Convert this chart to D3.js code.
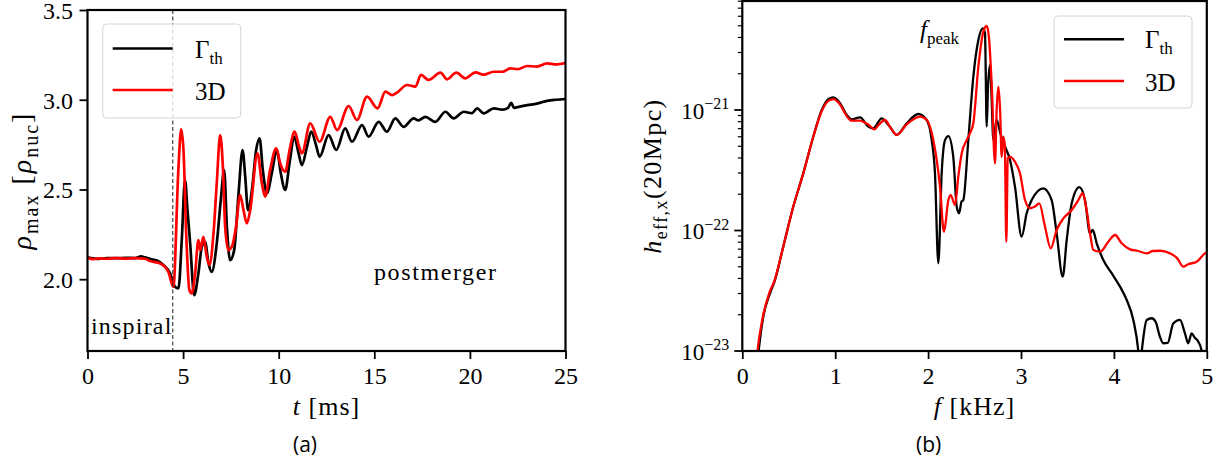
<!DOCTYPE html>
<html>
<head>
<meta charset="utf-8">
<script src="https://cdn.jsdelivr.net/npm/d3@7"></script>
<style>
  html, body { margin: 0; padding: 0; background: #fff; }
  svg { display: block; }
  text { fill: #000; }
</style>
</head>
<body>
<svg id="chart" width="1216" height="473"></svg>
<script>
// ---------- panel (a): maximum density vs time ----------
const tTicks = [0, 5, 10, 15, 20, 25];
const rhoTicks = [2.0, 2.5, 3.0, 3.5];
const mergerTime = 4.46;

const tGth = [0, 0.3, 0.6, 1.0, 1.5, 2.0, 2.5, 2.8, 3.0, 3.3, 3.6, 3.97, 4.32, 4.58, 4.76, 4.93, 5.10, 5.23, 5.37, 5.58,
  5.80, 5.98, 6.15, 6.33, 6.50, 6.76, 6.97, 7.15, 7.29, 7.46, 7.67, 7.90, 8.11, 8.25, 8.39, 8.60, 8.82, 9.0, 9.17, 9.38,
  9.64, 9.90, 10.11, 10.34, 10.57, 10.81, 11.04, 11.21, 11.48, 11.70, 11.95, 12.14, 12.61, 13.01, 13.48, 13.83, 14.36,
  14.70, 15.23, 15.66, 16.10, 16.53, 17.06, 17.3, 17.67, 18.19, 18.72, 19.15, 19.68, 20.1, 20.38, 20.72, 21.25, 21.7,
  22.0, 22.16, 22.3, 22.6, 23.0, 23.5, 24.04, 24.5, 25.0];
const rhoGth = [2.122, 2.116, 2.113, 2.118, 2.117, 2.119, 2.118, 2.128, 2.122, 2.112, 2.105, 2.079, 2.033, 1.958, 1.949,
  2.218, 2.552, 2.385, 2.199, 1.911, 2.033, 2.181, 2.208, 2.088, 2.041, 2.199, 2.44, 2.608, 2.292, 2.106, 2.162, 2.478,
  2.72, 2.571, 2.385, 2.497, 2.72, 2.785, 2.608, 2.478, 2.59, 2.72, 2.59, 2.497, 2.65, 2.794, 2.701, 2.636, 2.738, 2.822,
  2.748, 2.682, 2.803, 2.72, 2.84, 2.766, 2.859, 2.794, 2.877, 2.822, 2.896, 2.849, 2.896, 2.885, 2.905, 2.877, 2.933,
  2.896, 2.933, 2.925, 2.952, 2.924, 2.952, 2.945, 2.955, 2.983, 2.955, 2.962, 2.970, 2.978, 2.994, 3.0, 3.004];

const t3D = [0, 0.3, 0.6, 1.0, 1.5, 2.0, 2.5, 3.0, 3.27, 3.80, 4.23, 4.49, 4.76, 4.90, 5.02, 5.16, 5.33, 5.45, 5.63, 5.80,
  5.89, 6.06, 6.24, 6.38, 6.59, 6.76, 6.94, 7.08, 7.20, 7.37, 7.55, 7.77, 7.98, 8.16, 8.33, 8.51, 8.89, 9.12, 9.29, 9.55,
  9.87, 10.08, 10.34, 10.57, 10.83, 11.07, 11.21, 11.65, 12.14, 12.70, 13.05, 13.66, 14.09, 14.62, 15.17, 15.58, 15.93,
  16.19, 16.71, 17.15, 17.44, 17.84, 18.46, 18.81, 19.29, 19.76, 20.29, 20.7, 21.25, 21.7, 22.12, 22.5, 23.0, 23.5,
  24.04, 24.5, 25.0];
const rho3D = [2.120, 2.112, 2.116, 2.114, 2.118, 2.115, 2.117, 2.114, 2.101, 2.088, 2.041, 1.958, 2.627, 2.835, 2.72,
  2.257, 1.94, 1.921, 2.033, 2.218, 2.162, 2.236, 2.125, 2.079, 2.255, 2.534, 2.803, 2.627, 2.292, 2.162, 2.181, 2.292,
  2.469, 2.385, 2.311, 2.385, 2.701, 2.534, 2.46, 2.608, 2.729, 2.645, 2.599, 2.72, 2.822, 2.738, 2.701, 2.868, 2.766,
  2.905, 2.831, 2.965, 2.887, 3.017, 2.952, 3.045, 3.026, 3.04, 3.082, 3.073, 3.138, 3.11, 3.151, 3.114, 3.151, 3.119,
  3.153, 3.14, 3.156, 3.156, 3.175, 3.17, 3.188, 3.185, 3.203, 3.197, 3.205];

// ---------- panel (b): effective strain spectrum ----------
const fTicks = [0, 1, 2, 3, 4, 5];
const hTicks = [1e-23, 1e-22, 1e-21];

const fGth = [0.15, 0.18, 0.226, 0.298, 0.352, 0.441, 0.549, 0.657, 0.764, 0.855, 0.926, 0.98, 1.052, 1.124, 1.178, 1.267,
  1.356, 1.41, 1.50, 1.58, 1.662, 1.77, 1.894, 1.985, 2.039, 2.074, 2.11, 2.146, 2.182, 2.218, 2.271, 2.308, 2.333, 2.36,
  2.379, 2.433, 2.487, 2.541, 2.588, 2.612, 2.631, 2.645, 2.666, 2.684, 2.702, 2.738, 2.78, 2.828, 2.882, 2.935, 3.007,
  3.061, 3.115, 3.24, 3.33, 3.384, 3.449, 3.492, 3.546, 3.628, 3.689, 3.743, 3.772, 3.815, 3.886, 3.976, 4.066, 4.138,
  4.209, 4.263, 4.28, 4.30, 4.353, 4.407, 4.45, 4.496, 4.532, 4.58, 4.639, 4.711, 4.765, 4.80, 4.837, 4.87, 4.898, 4.945,
  4.97];
const hGth = [6.3e-24, 1.07e-23, 1.93e-23, 3.01e-23, 3.88e-23, 7.35e-23, 1.58e-22, 2.99e-22, 6.0e-22, 1.0e-21, 1.23e-21,
  1.27e-21, 1.14e-21, 9.1e-22, 8.36e-22, 8.69e-22, 7.28e-22, 7.05e-22, 8.53e-22, 7.41e-22, 6.21e-22, 7.76e-22, 9.27e-22,
  8.26e-22, 5.64e-22, 2.99e-22, 5.35e-23, 2.99e-22, 5.62e-22, 6.08e-22, 4.09e-22, 1.58e-22, 1.39e-22, 1.74e-22, 1.79e-22,
  5.64e-22, 1.89e-21, 3.81e-21, 4.76e-21, 4.37e-21, 7.28e-22, 1.58e-21, 2.36e-21, 1.26e-21, 5.64e-22, 8.26e-22, 6.3e-22,
  4.97e-22, 3.85e-22, 2.31e-22, 8.89e-23, 1.39e-22, 1.79e-22, 2.24e-22, 1.79e-22, 9.48e-23, 4.14e-23, 8.34e-23, 1.68e-22,
  2.29e-22, 1.78e-22, 9.48e-23, 1.01e-22, 7.83e-23, 5.69e-23, 4.42e-23, 3.42e-23, 2.65e-23, 1.81e-23, 1.0e-23, 7.1e-24,
  1.0e-23, 1.81e-23, 1.87e-23, 1.74e-23, 1.31e-23, 1.16e-23, 1.17e-23, 1.69e-23, 1.81e-23, 1.40e-23, 1.16e-23, 1.40e-23,
  1.29e-23, 1.23e-23, 1.0e-23, 7.1e-24];

const f3D = [0.14, 0.165, 0.22, 0.29, 0.345, 0.441, 0.549, 0.657, 0.764, 0.855, 0.926, 0.98, 1.052, 1.124, 1.178, 1.267,
  1.33, 1.356, 1.42, 1.46, 1.536, 1.59, 1.662, 1.77, 1.913, 1.985, 2.056, 2.128, 2.171, 2.218, 2.243, 2.29, 2.325, 2.362,
  2.416, 2.451, 2.487, 2.541, 2.595, 2.631, 2.655, 2.684, 2.72, 2.738, 2.756, 2.775, 2.792, 2.81, 2.826, 2.842, 2.858,
  2.882, 2.935, 2.989, 3.043, 3.097, 3.15, 3.197, 3.258, 3.32, 3.384, 3.456, 3.546, 3.617, 3.664, 3.70, 3.743, 3.779,
  3.851, 3.94, 4.012, 4.084, 4.173, 4.26, 4.353, 4.42, 4.496, 4.604, 4.68, 4.747, 4.80, 4.891, 4.98, 5.0];
const h3D = [6.3e-24, 1.02e-23, 1.9e-23, 3.02e-23, 3.8e-23, 7.35e-23, 1.58e-22, 2.99e-22, 6.0e-22, 9.77e-22, 1.19e-21,
  1.23e-21, 1.11e-21, 8.9e-22, 8.15e-22, 8.15e-22, 7.76e-22, 7.59e-22, 6.92e-22, 7.41e-22, 8.26e-22, 7.24e-22, 6.21e-22,
  7.59e-22, 8.81e-22, 8.26e-22, 5.64e-22, 2.31e-22, 9.77e-23, 1.79e-22, 1.97e-22, 1.63e-22, 2.80e-22, 4.38e-22, 5.64e-22,
  6.41e-22, 7.76e-22, 2.29e-21, 4.47e-21, 4.98e-21, 3.98e-21, 1.67e-21, 3.61e-22, 1.0e-21, 1.56e-21, 1.0e-21, 4.09e-22,
  6.01e-22, 5.0e-22, 8.07e-23, 3.98e-22, 4.09e-22, 3.72e-22, 2.99e-22, 1.79e-22, 1.53e-22, 1.58e-22, 1.68e-22, 1.08e-22,
  7.11e-23, 1.01e-22, 1.26e-22, 1.48e-22, 1.79e-22, 2.04e-22, 1.58e-22, 9.48e-23, 6.89e-23, 6.67e-23, 8.07e-23, 9.18e-23,
  7.83e-23, 6.98e-23, 6.76e-23, 6.46e-23, 6.76e-23, 6.79e-23, 6.46e-23, 5.9e-23, 5.01e-23, 5.25e-23, 5.51e-23, 6.46e-23,
  6.6e-23];

const seriesNames = ["Γ", "3D"];
const seriesColors = ["#000000", "#ff0000"];

const SERIF = '"Liberation Serif", "DejaVu Serif", serif';
const SANS = '"Open Sans", "Noto Sans", sans-serif';
const TICK_FS = 24, SUB_FS = 17;

const svg = d3.select("#chart");

// text made of pieces: italic symbols, subscripts, superscripts
function mathText(parent, x, y, parts, size, anchor, subSize) {
  const t = parent.append("text").attr("x", x).attr("y", y)
    .style("font-family", SERIF).style("font-size", size + "px")
    .attr("text-anchor", anchor || "start");
  let shift = 0;
  parts.forEach(p => {
    const s = t.append("tspan").text(p.s);
    const target = p.sub ? 0.24 * size : p.sup ? -0.4 * size : 0;
    if (target !== shift) { s.attr("dy", target - shift); shift = target; }
    if (p.it) s.style("font-style", "italic");
    if (p.sub || p.sup) s.style("font-size", (p.fs || subSize || SUB_FS) + "px");
  });
  return t;
}

function plainText(parent, x, y, s, size, spacing) {
  return parent.append("text").attr("x", x).attr("y", y)
    .style("font-family", SERIF).style("font-size", size + "px")
    .attr("letter-spacing", spacing || 0).text(s);
}

function frame(g, x0, x1, y0, y1) {
  g.append("rect").attr("x", x0).attr("y", y1).attr("width", x1 - x0).attr("height", y0 - y1)
    .attr("fill", "none").attr("stroke", "#000").attr("stroke-width", 2.2);
}

function legend(g, x, y, w, h, lineY, textX) {
  g.append("rect").attr("x", x).attr("y", y).attr("width", w).attr("height", h).attr("rx", 4)
    .attr("fill", "#fff").attr("fill-opacity", 0.8).attr("stroke", "#d4d4d4").attr("stroke-width", 1);
  lineY.forEach((ly, i) => {
    g.append("line").attr("x1", x + 10).attr("x2", x + 70).attr("y1", ly).attr("y2", ly)
      .attr("stroke", seriesColors[i]).attr("stroke-width", 2.4);
  });
  mathText(g, textX, lineY[0] + 9, [{ s: seriesNames[0] }, { s: "th", sub: true }], 25);
  mathText(g, textX, lineY[1] + 10, [{ s: seriesNames[1] }], 25);
}

function styleTicks(a) {
  a.select(".domain").remove();
  a.selectAll(".tick line").attr("stroke", "#000").attr("stroke-width", 1.8);
  a.selectAll(".tick text").style("font-family", SERIF).style("font-size", TICK_FS + "px").style("fill", "#000");
}

// ================= panel (a) =================
{
  const X0 = 87.5, X1 = 565.5, Y0 = 351, Y1 = 10;
  const x = d3.scaleLinear().domain([0, 25]).range([X0, X1]);
  const y = d3.scaleLinear().domain([1.6, 3.5]).range([Y0, Y1]);
  const g = svg.append("g");

  g.append("clipPath").attr("id", "clipA").append("rect")
    .attr("x", X0).attr("y", Y1).attr("width", X1 - X0).attr("height", Y0 - Y1);

  const line = d3.line().x(d => x(d[0])).y(d => y(d[1])).curve(d3.curveMonotoneX);
  const lines = g.append("g").attr("clip-path", "url(#clipA)");
  [[tGth, rhoGth], [t3D, rho3D]].forEach(([ts, vs], i) => {
    lines.append("path").datum(ts.map((t, k) => [t, vs[k]]))
      .attr("d", line).attr("fill", "none").attr("stroke", seriesColors[i])
      .attr("stroke-width", 2.7).attr("stroke-linejoin", "round");
  });

  // merger marker
  g.append("line").attr("x1", x(mergerTime)).attr("x2", x(mergerTime)).attr("y1", Y1).attr("y2", Y0)
    .attr("stroke", "#333").attr("stroke-width", 1.1).attr("stroke-dasharray", "4,2.5");

  // axes
  const ax = g.append("g").attr("transform", `translate(0,${Y0})`)
    .call(d3.axisBottom(x).tickValues(tTicks).tickFormat(d3.format("d")).tickSize(8).tickSizeOuter(0));
  const ay = g.append("g").attr("transform", `translate(${X0},0)`)
    .call(d3.axisLeft(y).tickValues(rhoTicks).tickFormat(d3.format(".1f")).tickSize(8).tickSizeOuter(0));
  styleTicks(ax); styleTicks(ay);
  ax.selectAll(".tick text").attr("y", 16).attr("dy", "0.71em");
  ay.selectAll(".tick text").attr("x", -14.5).attr("dy", "0.35em");

  frame(g, X0, X1, Y0, Y1);

  plainText(g, 91, 334, "inspiral", 24, 1.2);
  plainText(g, 374, 280, "postmerger", 24, 1.6);

  legend(g, 102.7, 24, 138, 94, [48.5, 90], 195);

  mathText(g, (X0 + X1) / 2, 415, [{ s: "t", it: true }, { s: " [ms]" }], 26, "middle")
    .attr("letter-spacing", 1);
  mathText(g, 0, 0, [{ s: "ρ", it: true }, { s: "max", sub: true }, { s: " [" }, { s: "ρ", it: true },
    { s: "nuc", sub: true }, { s: "]" }], 28, "middle", 20)
    .attr("transform", `translate(31,${(Y0 + Y1) / 2}) rotate(-90)`).attr("letter-spacing", 2);

  g.append("text").attr("x", 293).attr("y", 452)
    .style("font-family", SANS).style("font-size", "21px").text("(a)");
}

// ================= panel (b) =================
{
  const X0 = 742.3, X1 = 1206.8, Y0 = 351, Y1 = 1;
  const x = d3.scaleLinear().domain([0, 5]).range([X0, X1]);
  const y = d3.scaleLog().domain([1e-23, 8.03e-21]).range([Y0, Y1]);
  const g = svg.append("g");

  g.append("clipPath").attr("id", "clipB").append("rect")
    .attr("x", X0).attr("y", Y1).attr("width", X1 - X0).attr("height", Y0 - Y1);

  const line = d3.line().x(d => x(d[0])).y(d => y(d[1])).curve(d3.curveMonotoneX);
  const lines = g.append("g").attr("clip-path", "url(#clipB)");
  [[fGth, hGth], [f3D, h3D]].forEach(([fs, hs], i) => {
    lines.append("path").datum(fs.map((f, k) => [f, hs[k]]))
      .attr("d", line).attr("fill", "none").attr("stroke", seriesColors[i])
      .attr("stroke-width", 2.3).attr("stroke-linejoin", "round");
  });

  const ax = g.append("g").attr("transform", `translate(0,${Y0})`)
    .call(d3.axisBottom(x).tickValues(fTicks).tickFormat(d3.format("d")).tickSize(8).tickSizeOuter(0));
  styleTicks(ax);
  ax.selectAll(".tick text").attr("y", 16).attr("dy", "0.71em");

  // log axis: minor ticks from the scale, major ticks with power labels
  const minor = y.ticks().filter(v => !hTicks.some(h => Math.abs(h - v) / h < 1e-6));
  const ay = g.append("g");
  ay.selectAll("line.minor").data(minor).join("line").attr("class", "minor")
    .attr("x1", X0 - 4.5).attr("x2", X0).attr("y1", d => y(d)).attr("y2", d => y(d))
    .attr("stroke", "#000").attr("stroke-width", 1.2);
  ay.selectAll("line.major").data(hTicks).join("line").attr("class", "major")
    .attr("x1", X0 - 8).attr("x2", X0).attr("y1", d => y(d)).attr("y2", d => y(d))
    .attr("stroke", "#000").attr("stroke-width", 1.8);
  hTicks.forEach(h => {
    const e = Math.round(Math.log10(h));
    mathText(ay, X0 - 13, y(h) + 8.5, [{ s: "10" }, { s: "−" + Math.abs(e), sup: true, fs: 16 }], 23, "end");
  });

  frame(g, X0, X1, Y0, Y1);

  mathText(g, 920, 38, [{ s: "f", it: true }, { s: "peak", sub: true }], 25);

  legend(g, 1054, 16, 138, 92, [39.3, 81], 1145);

  mathText(g, (X0 + X1) / 2, 415, [{ s: "f", it: true }, { s: " [kHz]" }], 26, "middle")
    .attr("letter-spacing", 1);
  mathText(g, 0, 0, [{ s: "h", it: true }, { s: "eff,x", sub: true }, { s: "(20Mpc)" }], 26, "middle", 18)
    .attr("transform", `translate(661,${(Y0 + Y1) / 2}) rotate(-90)`).attr("letter-spacing", 1.4);

  g.append("text").attr("x", 916).attr("y", 452)
    .style("font-family", SANS).style("font-size", "21px").text("(b)");
}
</script>
</body>
</html>
